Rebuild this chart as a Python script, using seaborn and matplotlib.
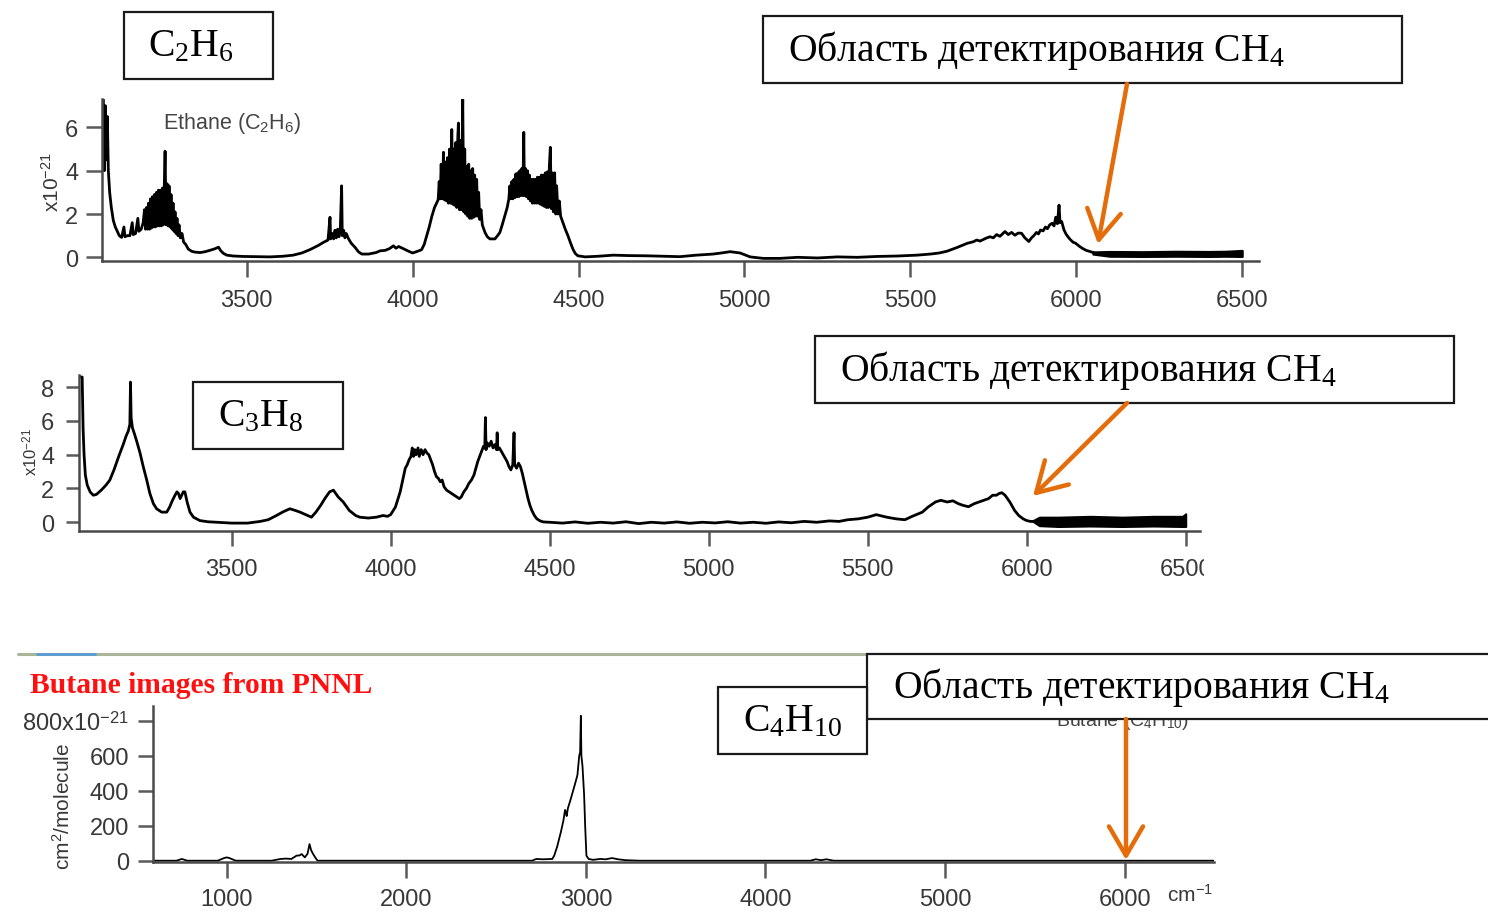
import matplotlib
matplotlib.use("Agg")
import matplotlib.pyplot as plt
import seaborn as sns
from matplotlib.patches import Rectangle, FancyArrowPatch, ArrowStyle
from matplotlib.lines import Line2D
from matplotlib.transforms import Bbox

# ---------------- data ----------------
ETHANE_WN = [3068, 3071, 3074, 3077, 3080, 3083, 3087, 3092, 3098, 3104, 3110, 3116, 3123, 3130, 3133,
             3140, 3148, 3155, 3158, 3165, 3172, 3175, 3182, 3188, 3192, 3195,
             3198, 3201, 3204, 3207, 3210, 3213, 3216, 3219, 3222, 3225, 3228, 3231, 3234, 3237, 3240,
             3243, 3246, 3249, 3254, 3257, 3260, 3263, 3266, 3269, 3272, 3275, 3278, 3281, 3284, 3287,
             3290, 3293, 3296, 3300, 3305, 3310, 3316, 3324, 3334, 3344, 3360, 3375, 3384, 3395, 3405,
             3415, 3422, 3430, 3440, 3460, 3490, 3530, 3570, 3610, 3640, 3666, 3690, 3716, 3730, 3745,
             3751, 3753, 3758, 3762, 3766, 3770, 3774, 3778, 3782, 3786, 3788, 3792, 3796, 3800, 3807,
             3815, 3827, 3837, 3847, 3867, 3890, 3902, 3917, 3930, 3942, 3950, 3958, 3972, 3985, 4000,
             4015, 4027, 4035, 4042, 4050, 4058, 4066, 4072, 4077,
             4080, 4083, 4086, 4089, 4093, 4096, 4099, 4102, 4105, 4108, 4111, 4114, 4118, 4121, 4124,
             4127, 4130, 4133, 4136, 4138, 4141, 4144, 4147, 4151, 4154, 4157, 4160, 4163, 4166, 4169,
             4172, 4175, 4178, 4181, 4184, 4187, 4190, 4193, 4196, 4199, 4202, 4206, 4210, 4218, 4225,
             4233, 4248, 4256, 4263, 4270, 4278, 4285, 4290,
             4293, 4296, 4299, 4302, 4305, 4308, 4311, 4314, 4317, 4320, 4323, 4326, 4329, 4332, 4335,
             4337, 4340, 4343, 4346, 4349, 4352, 4355, 4358, 4361, 4364, 4367, 4370, 4373, 4376, 4379,
             4382, 4385, 4388, 4391, 4394, 4397, 4400, 4403, 4406, 4409, 4412, 4415, 4418, 4421, 4424,
             4428, 4431, 4434, 4438, 4442, 4446, 4453, 4460, 4468, 4475, 4483, 4490, 4498, 4520, 4560,
             4605, 4650, 4705, 4750, 4805, 4855, 4905, 4930, 4957, 4987, 5017, 5057, 5107, 5160, 5220,
             5280, 5340, 5400, 5460, 5520, 5560, 5587, 5610, 5640, 5672, 5690, 5700, 5710, 5729, 5740,
             5750, 5760, 5770, 5785, 5795, 5805, 5815, 5825, 5835, 5845, 5857, 5865, 5872, 5880, 5886,
             5892, 5900, 5907, 5913, 5920, 5927, 5933, 5938, 5943, 5948, 5951, 5956, 5963, 5970, 5980,
             5990, 5998, 6010, 6020, 6030, 6041, 6055]
ETHANE_ABS = [7.3, 4.0, 7.0, 4.5, 6.5, 4.0, 3.0, 2.3, 1.7, 1.4, 1.2, 1.0, 0.92, 1.4, 0.95,
              1.0, 1.0, 1.6, 1.05, 1.1, 1.8, 1.2, 1.3, 1.6, 2.2, 1.3,
              2.3, 1.3, 2.5, 1.3, 2.7, 1.35, 2.8, 1.4, 2.9, 1.4, 3.0, 1.45, 3.1, 1.45, 3.1,
              1.45, 3.2, 1.5, 4.9, 1.5, 3.4, 1.45, 3.3, 1.4, 2.9, 1.3, 2.5, 1.2, 2.1, 1.1,
              1.8, 1.0, 1.5, 0.9, 1.1, 0.7, 0.6, 0.38, 0.28, 0.24, 0.22, 0.26, 0.3, 0.35, 0.4,
              0.47, 0.3, 0.18, 0.1, 0.06, 0.04, 0.03, 0.02, 0.05, 0.1, 0.2, 0.35, 0.55, 0.68, 0.8,
              1.85, 0.85, 1.1, 0.85, 1.25, 0.9, 1.3, 0.95, 1.3, 3.3, 1.0, 1.25, 0.9, 1.1, 0.85,
              0.65, 0.45, 0.25, 0.15, 0.15, 0.22, 0.3, 0.32, 0.4, 0.53, 0.42, 0.5, 0.4, 0.3, 0.2,
              0.28, 0.35, 0.6, 0.97, 1.4, 1.9, 2.3, 2.5, 2.66,
              3.5, 2.7, 4.3, 2.7, 4.85, 2.65, 4.4, 2.6, 4.6, 2.5, 5.0, 2.5, 5.9, 2.45, 5.0,
              2.4, 5.3, 2.3, 5.5, 6.2, 2.2, 5.4, 2.2, 7.3, 2.1, 5.0, 2.0, 4.2, 1.9, 4.3,
              1.8, 4.0, 1.8, 4.1, 1.85, 3.8, 1.9, 3.6, 1.9, 3.0, 1.75, 2.2, 1.5, 1.15, 0.95,
              0.85, 0.85, 1.0, 1.15, 1.5, 1.92, 2.3, 2.7,
              3.3, 2.7, 3.5, 2.7, 3.6, 2.75, 3.85, 2.8, 3.9, 2.8, 4.0, 2.85, 4.1, 2.85, 5.77,
              2.85, 4.1, 2.8, 4.0, 2.7, 3.8, 2.6, 3.6, 2.5, 3.6, 2.5, 3.6, 2.5, 3.7, 2.5,
              3.7, 2.45, 3.8, 2.4, 3.8, 2.35, 3.9, 2.3, 3.95, 2.3, 4.2, 5.08, 2.25, 3.9, 2.1,
              3.9, 2.0, 3.3, 2.0, 2.6, 1.9, 1.6, 1.3, 1.0, 0.7, 0.38, 0.18, 0.07, 0.02, 0.05,
              0.1, 0.08, 0.07, 0.05, 0.03, 0.1, 0.15, 0.2, 0.26, 0.2, 0.02, -0.05, -0.05, 0.0, -0.03,
              0.02, 0.0, 0.04, 0.06, 0.1, 0.15, 0.2, 0.28, 0.45, 0.65, 0.72, 0.8, 0.75, 0.89, 0.95,
              0.9, 1.05, 0.97, 1.19, 1.05, 1.15, 1.02, 1.12, 1.11, 0.9, 0.73, 0.9, 1.0, 1.15, 1.08,
              1.26, 1.22, 1.4, 1.32, 1.5, 1.57, 1.45, 1.85, 1.55, 2.41, 1.6, 1.65, 1.26, 1.05, 0.85,
              0.7, 0.65, 0.5, 0.4, 0.32, 0.27, 0.2]
# noisy flat tail of the ethane trace, lower / upper envelope
ETHANE_TAIL_WN = [6050, 6100, 6200, 6300, 6400, 6450, 6500]
ETHANE_TAIL_LO = [0.15, 0.05, 0.04, 0.05, 0.04, 0.05, 0.04]
ETHANE_TAIL_HI = [0.25, 0.27, 0.26, 0.28, 0.27, 0.28, 0.32]

PROPANE_WN = [3021, 3030, 3033, 3036, 3040, 3046, 3055, 3065, 3075, 3090, 3105, 3117, 3130, 3145, 3159,
              3168, 3175, 3180, 3182, 3184, 3188, 3195, 3203, 3212, 3222, 3233, 3243, 3254, 3264, 3280,
              3296, 3305, 3314, 3322, 3328, 3333, 3338, 3343, 3348, 3353, 3360, 3369, 3380, 3400, 3425,
              3453, 3500, 3550, 3590, 3615, 3641, 3660, 3683, 3700, 3715, 3733, 3751, 3765, 3780, 3793,
              3808, 3820, 3835, 3851, 3870, 3890, 3903, 3930, 3955, 3976, 3990, 4000, 4015, 4030, 4046,
              4052, 4058, 4064, 4068, 4072, 4076, 4080, 4086, 4090, 4096, 4102, 4108, 4114, 4120, 4126,
              4132, 4138, 4144, 4150, 4156, 4162, 4168, 4176, 4184, 4192, 4200, 4208, 4216, 4222, 4230,
              4238, 4246, 4254, 4262, 4268, 4274, 4280, 4286, 4292, 4296, 4298, 4300, 4304, 4310, 4316,
              4322, 4328, 4333, 4335, 4337, 4342, 4348, 4354, 4360, 4366, 4372, 4378, 4384, 4388, 4390,
              4396, 4402, 4408, 4414, 4420, 4426, 4432, 4438, 4444, 4452, 4460, 4470, 4480, 4500, 4540,
              4580, 4620, 4660, 4700, 4740, 4780, 4820, 4860, 4900, 4940, 4980, 5020, 5060, 5100, 5140,
              5180, 5220, 5260, 5300, 5340, 5380, 5410, 5438, 5470, 5500, 5527, 5560, 5590, 5617, 5640,
              5672, 5690, 5713, 5730, 5750, 5768, 5785, 5800, 5817, 5835, 5850, 5866, 5880, 5893, 5905,
              5913, 5922, 5932, 5947, 5962, 5975, 5989, 6000, 6012, 6022]
PROPANE_ABS = [8.6, 8.6, 5.5, 4.0, 2.8, 2.2, 1.8, 1.6, 1.65, 1.9, 2.2, 2.5, 3.1, 3.9, 4.6,
               5.1, 5.4, 5.8, 8.3, 6.2, 5.6, 5.2, 4.7, 4.1, 3.3, 2.5, 1.7, 1.1, 0.8, 0.6,
               0.6, 0.9, 1.3, 1.6, 1.8, 1.7, 1.4, 1.6, 1.8, 1.8, 1.2, 0.6, 0.3, 0.1, 0.03,
               0.0, -0.05, -0.05, 0.05, 0.15, 0.4, 0.6, 0.8, 0.7, 0.6, 0.45, 0.3, 0.6, 1.0, 1.4,
               1.8, 1.9, 1.5, 1.2, 0.7, 0.4, 0.3, 0.25, 0.3, 0.4, 0.35, 0.45, 0.9, 1.8, 3.2,
               3.4, 3.7, 3.9, 4.4, 3.9, 4.3, 4.0, 4.4, 3.9, 4.3, 4.0, 4.3, 4.1, 4.0, 3.7,
               3.4, 3.0, 2.7, 2.6, 2.4, 2.5, 2.1, 1.9, 1.8, 1.7, 1.6, 1.5, 1.4, 1.5, 1.8,
               2.0, 2.3, 2.5, 2.8, 3.2, 3.6, 3.9, 4.2, 4.5, 4.4, 6.2, 4.3, 4.7, 4.5, 4.8,
               4.4, 4.6, 4.3, 5.3, 4.3, 4.4, 4.2, 4.0, 3.8, 3.6, 3.3, 3.1, 3.4, 5.3, 3.4,
               3.2, 3.5, 3.3, 2.9, 2.4, 1.9, 1.4, 1.0, 0.7, 0.4, 0.2, 0.08, 0.02, 0.0, -0.05,
               0.02, -0.06, 0.0, -0.05, 0.03, -0.08, 0.0, -0.05, 0.02, -0.06, 0.0, -0.04, 0.03, -0.05, 0.0,
               -0.06, 0.02, -0.03, 0.05, 0.0, 0.08, 0.05, 0.15, 0.2, 0.3, 0.45, 0.3, 0.2, 0.15, 0.35,
               0.6, 0.9, 1.2, 1.3, 1.2, 1.27, 1.1, 1.0, 0.92, 1.1, 1.2, 1.3, 1.4, 1.6, 1.6,
               1.7, 1.75, 1.6, 1.2, 0.7, 0.4, 0.2, 0.1, 0.05, 0.05]
# noisy flat tail of the propane trace, lower / upper envelope
PROPANE_TAIL_WN = [6020, 6040, 6100, 6200, 6300, 6400, 6490, 6500]
PROPANE_TAIL_LO = [0.05, -0.2, -0.25, -0.22, -0.25, -0.22, -0.25, -0.25]
PROPANE_TAIL_HI = [0.1, 0.3, 0.3, 0.35, 0.3, 0.35, 0.35, 0.5]

BUTANE_WN = [591, 650, 720, 750, 780, 850, 950, 985, 1000, 1015, 1050, 1150, 1250, 1300, 1330,
             1360, 1389, 1405, 1417, 1435, 1450, 1461, 1470, 1480, 1495, 1506, 1600, 2000, 2500, 2700,
             2724, 2760, 2813, 2824, 2840, 2861, 2875, 2884, 2889, 2893, 2900, 2915, 2926, 2940, 2953,
             2963, 2968, 2972, 2975, 2981, 2990, 2996, 3003, 3015, 3040, 3080, 3110, 3146, 3180, 3220,
             3300, 4000, 4250, 4280, 4310, 4340, 4380, 5000, 6000, 6498]
BUTANE_ABS = [0, 0, 0, 10, 0, 0, 0, 15, 19, 15, 0, 0, 0, 10, 12,
              10, 29, 30, 38, 19, 40, 95, 60, 40, 15, 0, 0, 0, 0, 0,
              10, 8, 10, 30, 80, 165, 230, 290, 280, 255, 300, 350, 390, 440, 490,
              600, 620, 828, 600, 543, 380, 200, 29, 10, 5, 10, 8, 15, 8, 3,
              0, 0, 0, 8, 3, 8, 0, 0, 0, 0]

ETHANE_XTICKS = [3500, 4000, 4500, 5000, 5500, 6000, 6500]
ETHANE_YTICKS = [0, 2, 4, 6]
PROPANE_XTICKS = [3500, 4000, 4500, 5000, 5500, 6000, 6500]
PROPANE_YTICKS = [0, 2, 4, 6, 8]
BUTANE_XTICKS = [1000, 2000, 3000, 4000, 5000, 6000]
BUTANE_YTICKS = [0, 200, 400, 600, 800]
BUTANE_YTICKLABELS = ["0", "200", "400", "600", r"800x10$^{\mathsf{-21}}$"]

DETECT_LABEL = "Область детектирования CH$_4$"

# ---------------- styling ----------------
W, H = 1488, 912
sns.set_theme(style="ticks")
plt.rcParams["font.family"] = ["Liberation Sans", "DejaVu Sans"]
plt.rcParams["mathtext.fontset"] = "custom"
plt.rcParams["mathtext.rm"] = "Liberation Serif"
plt.rcParams["mathtext.it"] = "Liberation Serif:italic"
plt.rcParams["mathtext.bf"] = "Liberation Serif:bold"
plt.rcParams["mathtext.sf"] = "Liberation Sans"

SPINE_C = "#4a4a4a"
TICK_C = "#5a5a5a"
LABEL_C = "#383838"
ORANGE = "#E46C0A"

fig = plt.figure(figsize=(W / 100, H / 100), dpi=100)
fig.patch.set_facecolor("white")


def fx(x):
    return x / W


def fy(y):
    return 1 - y / H


def add_ax(left, top, right, bottom):
    ax = fig.add_axes([fx(left), fy(bottom), fx(right) - fx(left), fy(top) - fy(bottom)])
    ax.set_facecolor("none")
    return ax


def style_ax(ax, xpad, ypad, xlen, ylen):
    sns.despine(ax=ax)
    for s in ("left", "bottom"):
        ax.spines[s].set_color(SPINE_C)
        ax.spines[s].set_linewidth(1.8)
    ax.tick_params(axis="x", direction="out", length=xlen, width=1.8, color=TICK_C,
                   labelcolor=LABEL_C, labelsize=17, pad=xpad)
    ax.tick_params(axis="y", direction="out", length=ylen, width=1.8, color=TICK_C,
                   labelcolor=LABEL_C, labelsize=17, pad=ypad)
    ax.set_xlabel("")
    ax.set_ylabel("")


# ---- Ethane panel ----
ax1 = add_ax(101.7, 100, 1258.8, 262)
sns.lineplot(x=ETHANE_WN, y=ETHANE_ABS, ax=ax1, color="black", linewidth=2.0,
             estimator=None, sort=False, legend=False)
ax1.fill_between(ETHANE_TAIL_WN, ETHANE_TAIL_LO, ETHANE_TAIL_HI, color="black", lw=1.5)
ax1.set_xlim(3063, 6550)
ax1.set_ylim(-0.17, 7.31)
ax1.set_xticks(ETHANE_XTICKS)
ax1.set_yticks(ETHANE_YTICKS)
style_ax(ax1, 9.0, 5.5, 11.5, 11.3)

# ---- Propane panel ----
ax2 = add_ax(79.3, 376, 1200, 531.7)
sns.lineplot(x=PROPANE_WN, y=PROPANE_ABS, ax=ax2, color="black", linewidth=2.0,
             estimator=None, sort=False, legend=False)
ax2.fill_between(PROPANE_TAIL_WN, PROPANE_TAIL_LO, PROPANE_TAIL_HI, color="black", lw=1.5)
ax2.set_xlim(3021, 6545)
ax2.set_ylim(-0.5, 8.72)
ax2.set_xticks(PROPANE_XTICKS)
ax2.set_yticks(PROPANE_YTICKS)
style_ax(ax2, 9.0, 9.0, 10.8, 9.1)
last = ax2.xaxis.get_major_ticks()[-1].label1
last.set_clip_on(True)
last.set_clip_box(Bbox([[0, 0], [1204, H]]))

# ---- Butane panel ----
ax3 = add_ax(153.3, 706.7, 1214, 862.7)
sns.lineplot(x=BUTANE_WN, y=BUTANE_ABS, ax=ax3, color="black", linewidth=1.3,
             estimator=None, sort=False, legend=False)
ax3.set_xlim(591, 6498)
ax3.set_ylim(-5.7, 886)
ax3.set_xticks(BUTANE_XTICKS)
ax3.set_yticks(BUTANE_YTICKS)
ax3.set_yticklabels(BUTANE_YTICKLABELS)
style_ax(ax3, 8.0, 6.5, 11.2, 10.8)

# ---------------- texts ----------------
grey = "#444444"
fig.text(fx(163), fy(123), r"Ethane (C$_\mathsf{2}$H$_\mathsf{6}$)", fontsize=15.5, color=grey,
         ha="left", va="center", zorder=2)
fig.text(fx(1180), fy(396), r"Propane (C$_\mathsf{3}$H$_\mathsf{8}$)", fontsize=12,
         color=grey, ha="right", va="center", zorder=2)
fig.text(fx(1056), fy(722), r"Butane (C$_\mathsf{4}$H$_\mathsf{10}$)", fontsize=14, color=grey,
         ha="left", va="center", zorder=2)

fig.text(fx(52), fy(182), r"x10$^{\mathsf{-21}}$", fontsize=15, color=LABEL_C, rotation=90,
         ha="center", va="center")
fig.text(fx(31), fy(452), r"x10$^{\mathsf{-21}}$", fontsize=12, color=LABEL_C, rotation=90,
         ha="center", va="center")
fig.text(fx(63), fy(806), r"cm$^{\mathsf{2}}$/molecule", fontsize=15, color=LABEL_C, rotation=90,
         ha="center", va="center")
fig.text(fx(1190), fy(895), r"cm$^{\mathsf{-1}}$", fontsize=15, color=LABEL_C,
         ha="center", va="center")

fig.text(fx(30), fy(686), "Butane images from PNNL", fontsize=21.3, color="#ff1010",
         family="Liberation Serif", fontweight="bold", ha="left", va="center")

# separator line
fig.add_artist(Line2D([fx(18), fx(1488)], [fy(655), fy(655)], color="#aab59a", lw=2.2,
                      transform=fig.transFigure, zorder=1))
fig.add_artist(Line2D([fx(37), fx(95)], [fy(655), fy(655)], color="#5b9bd5", lw=2.0,
                      transform=fig.transFigure, zorder=1))


def box(x0, y0, x1, y1, label, tx, size):
    r = Rectangle((fx(x0), fy(y1)), fx(x1) - fx(x0), fy(y0) - fy(y1), transform=fig.transFigure,
                  facecolor="white", edgecolor="#1a1a1a", lw=1.6, zorder=5)
    fig.add_artist(r)
    fig.text(fx(tx), fy((y0 + y1) / 2), label, fontsize=size, family="Liberation Serif",
             color="black", ha="left", va="center", zorder=6)


def arrow(x0, y0, x1, y1):
    a = FancyArrowPatch((fx(x0), fy(y0)), (fx(x1), fy(y1)), transform=fig.transFigure,
                        arrowstyle=ArrowStyle("->", head_length=0.6, head_width=0.35),
                        mutation_scale=35, color=ORANGE, lw=3.2, zorder=7,
                        shrinkA=0, shrinkB=0)
    fig.add_artist(a)


box(124, 13, 273, 80, r"C$_2$H$_6$", 148, 28.5)
box(763, 17, 1402, 84, DETECT_LABEL, 788, 28.5)
arrow(1127, 85, 1098, 245)

box(193, 383, 343, 450, r"C$_3$H$_8$", 218, 28.5)
box(815, 337, 1454, 404, DETECT_LABEL, 840, 28.5)
arrow(1127, 404, 1033, 497)

box(867, 655, 1500, 720, DETECT_LABEL, 893, 28.5)
box(718, 688, 867, 755, r"C$_4$H$_{10}$", 743, 28.5)
arrow(1126, 720, 1126, 861)

fig.savefig("out.png", dpi=100, facecolor="white")
